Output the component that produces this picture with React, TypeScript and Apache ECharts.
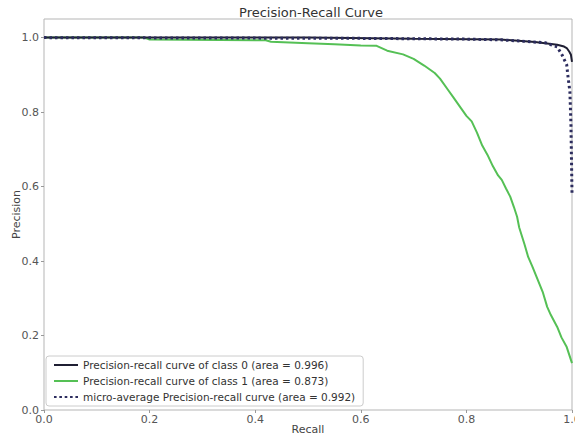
import React, { useEffect, useRef } from "react";
import * as echarts from "echarts";

const recall0 = [0, 0.5, 0.7, 0.864, 0.93, 0.972, 0.985, 0.99, 0.995, 0.998, 1.0];
const precision0 = [1.0, 1.0, 0.997, 0.995, 0.988, 0.981, 0.976, 0.972, 0.962, 0.954, 0.935];

const recall1 = [0, 0.19, 0.2, 0.42, 0.43, 0.5, 0.55, 0.6, 0.63, 0.65, 0.68, 0.7, 0.72, 0.74, 0.75, 0.765, 0.775, 0.79, 0.8, 0.81, 0.82, 0.83, 0.84, 0.85, 0.86, 0.867, 0.875, 0.883, 0.89, 0.896, 0.9, 0.91, 0.917, 0.925, 0.935, 0.945, 0.953, 0.96, 0.972, 0.98, 0.99, 1.0];
const precision1 = [1.0, 1.0, 0.995, 0.993, 0.989, 0.985, 0.982, 0.979, 0.978, 0.965, 0.955, 0.943, 0.925, 0.905, 0.89, 0.86, 0.84, 0.81, 0.79, 0.775, 0.745, 0.71, 0.685, 0.655, 0.63, 0.618, 0.595, 0.573, 0.545, 0.519, 0.49, 0.445, 0.411, 0.385, 0.35, 0.315, 0.277, 0.255, 0.223, 0.195, 0.169, 0.126];

const recallMicro = [0, 0.6, 0.8, 0.864, 0.9, 0.95, 0.972, 0.981, 0.99, 0.992, 0.996, 0.998, 1.0];
const precisionMicro = [1.0, 0.998, 0.996, 0.994, 0.991, 0.986, 0.975, 0.954, 0.927, 0.9, 0.855, 0.766, 0.583];

const seriesNames = [
  "Precision-recall curve of class 0 (area = 0.996)",
  "Precision-recall curve of class 1 (area = 0.873)",
  "micro-average Precision-recall curve (area = 0.992)",
];

const xTicks = [0, 0.2, 0.4, 0.6, 0.8, 1.0];

const zip = (a: number[], b: number[]) => a.map((v, i) => [v, b[i]]);

const solidIcon = "path://M0,0 L24,0 L24,2 L0,2 Z";
const dottedIcon =
  "path://M0,0h2.6v2h-2.6z M5.35,0h2.6v2h-2.6z M10.7,0h2.6v2h-2.6z M16.05,0h2.6v2h-2.6z M21.4,0h2.6v2h-2.6z";

export default function App() {
  const ref = useRef<HTMLDivElement>(null);
  useEffect(() => {
    if (!ref.current) return;
    const chart = echarts.init(ref.current, undefined, { renderer: "svg" });
    const font = "DejaVu Sans";
    const fmt = (v: number) => {
      const r = Math.round(v * 5) / 5;
      if (Math.abs(r - v) > 1e-6) return "";
      return r.toFixed(1);
    };
    chart.setOption({
      animation: false,
      backgroundColor: "#ffffff",
      title: {
        text: "Precision-Recall Curve",
        left: 306,
        top: 1,
        textAlign: "center",
        textStyle: { fontFamily: font, fontSize: 13, fontWeight: "normal", color: "#333" },
      },
      grid: {
        left: 44,
        right: 3,
        top: 19,
        bottom: 31,
        show: true,
        borderColor: "#b5b5b5",
        borderWidth: 1,
        backgroundColor: "transparent",
        containLabel: false,
        outerBoundsMode: "none",
      },
      legend: {
        orient: "vertical",
        left: 46,
        top: 356,
        itemWidth: 24,
        itemHeight: 2,
        itemGap: 4,
        padding: [3, 8, 3, 8],
        borderColor: "#cccccc",
        borderWidth: 1,
        borderRadius: 3,
        backgroundColor: "rgba(255,255,255,0.9)",
        textStyle: { fontFamily: font, fontSize: 10.5, color: "#333", lineHeight: 12 },
        data: [
          { name: seriesNames[0], icon: solidIcon },
          { name: seriesNames[1], icon: solidIcon },
          { name: seriesNames[2], icon: dottedIcon },
        ],
      },
      xAxis: {
        type: "value",
        min: 0,
        max: 1,
        interval: 0.2,
        name: "Recall",
        nameLocation: "middle",
        nameGap: 14,
        nameMoveOverlap: false,
        nameTextStyle: { fontFamily: font, fontSize: 11, color: "#444" },
        axisLine: { show: false },
        axisTick: { show: true, length: 3, lineStyle: { color: "#999" } },
        axisLabel: {
          fontFamily: font,
          fontSize: 11,
          color: "#555",
          margin: 4,
          formatter: (v: number) => (xTicks.some((t) => Math.abs(t - v) < 1e-6) ? v.toFixed(1) : ""),
        },
        splitLine: { show: false },
      },
      yAxis: {
        type: "value",
        min: 0,
        max: 1.05,
        interval: 0.2,
        name: "Precision",
        nameLocation: "middle",
        nameGap: 22,
        nameMoveOverlap: false,
        nameRotate: 90,
        nameTextStyle: { fontFamily: font, fontSize: 11, color: "#444" },
        axisLine: { show: false },
        axisTick: { show: true, length: 3, lineStyle: { color: "#999" } },
        axisLabel: {
          fontFamily: font,
          fontSize: 11,
          color: "#555",
          margin: 5,
          showMaxLabel: false,
          formatter: fmt,
        },
        splitLine: { show: false },
      },
      series: [
        {
          name: seriesNames[0],
          type: "line",
          data: zip(recall0, precision0),
          showSymbol: false,
          symbol: "none",
          lineStyle: { color: "#1f1f33", width: 2 },
          itemStyle: { color: "#1f1f33" },
          z: 3,
        },
        {
          name: seriesNames[1],
          type: "line",
          data: zip(recall1, precision1),
          showSymbol: false,
          symbol: "none",
          lineStyle: { color: "#55c055", width: 2 },
          itemStyle: { color: "#55c055" },
          z: 2,
        },
        {
          name: seriesNames[2],
          type: "line",
          data: zip(recallMicro, precisionMicro),
          showSymbol: false,
          symbol: "none",
          lineStyle: { color: "#2c2c5e", width: 3, type: [2.5, 3] },
          itemStyle: { color: "#2c2c5e" },
          z: 4,
        },
      ],
    });
    return () => chart.dispose();
  }, []);
  return (
    <div
      ref={ref}
      style={{ position: "fixed", left: 0, top: 0, width: 575, height: 441, background: "#fff" }}
    />
  );
}
